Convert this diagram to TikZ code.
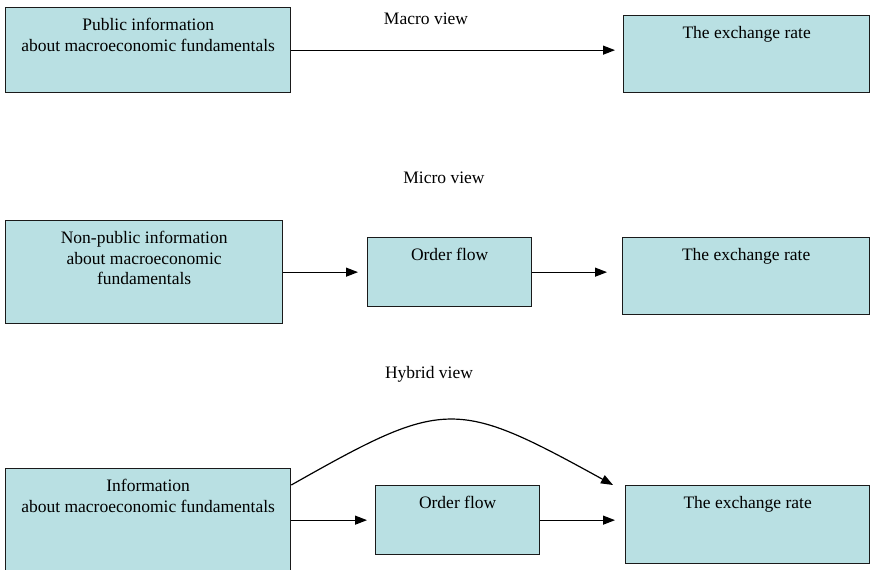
\documentclass[tikz,border=0pt]{standalone}
\usepackage{fontspec}
\setmainfont{Liberation Serif}
\usetikzlibrary{arrows.meta}
\definecolor{boxfill}{HTML}{B9E0E3}
\definecolor{boxline}{HTML}{1A1A1A}
\tikzset{
  panel/.style={draw=boxline, fill=boxfill, line width=1.3pt, inner sep=0pt, anchor=north west},
  caption/.style={inner sep=0pt, align=center, anchor=north,
    font=\fontsize{17.5}{20.5}\selectfont},
  heading/.style={inner sep=0pt, anchor=base, font=\fontsize{17.5}{20.5}\selectfont},
  flow/.style={line width=1.2pt, -{Triangle[length=12pt,width=9pt]}},
}
\newcommand{\panel}[6]{% name, x, y, width, height, text
  \node[panel, minimum width=#4pt, minimum height=#5pt] (#1) at (#2,#3) {};
  \node[caption] (#1T) at ([yshift=-11pt]#1.north) {#6};
}
\begin{document}
\begin{tikzpicture}[x=1pt,y=-1pt]
  \useasboundingbox (0,0) rectangle (870,570);
  \clip (0,0) rectangle (870,570);

  % Macro view
  \node[heading] (macro) at (426,24) {Macro view};
  \panel{pub}{5}{7}{285}{85}{Public information\\about macroeconomic fundamentals}
  \panel{fxA}{623}{15}{246}{77}{The exchange rate}
  \draw[flow, shorten >=8pt] (pub.east) -- (pub.east -| fxA.west);

  % Micro view
  \node[heading] (micro) at (444,183) {Micro view};
  \panel{npub}{5}{220}{277}{103}{Non-public information\\about macroeconomic\\fundamentals}
  \panel{ofA}{367}{237}{164}{69}{Order flow}
  \panel{fxB}{622}{237}{247}{77}{The exchange rate}
  \draw[flow, shorten >=9pt] (npub.east) -- (npub.east -| ofA.west);
  \draw[flow, shorten >=15pt] (ofA.east) -- (ofA.east -| fxB.west);

  % Hybrid view
  \node[heading] (hybrid) at (429,378) {Hybrid view};
  \panel{info}{5}{468}{285}{120}{Information\\about macroeconomic fundamentals}
  \panel{ofB}{375}{485}{164}{69}{Order flow}
  \panel{fxC}{625}{485}{244}{78}{The exchange rate}
  \draw[flow, shorten >=8pt] (ofB.west -| info.east) -- (ofB.west);
  \draw[flow, shorten >=10pt] (ofB.east) -- (ofB.east -| fxC.west);
  \coordinate (arcS) at ([yshift=-17pt]info.north east);
  \coordinate (arcE) at ([xshift=-12pt]fxC.north west);
  \draw[flow] (arcS) .. controls (445,398) and (455,398) .. (arcE);
\end{tikzpicture}
\end{document}
